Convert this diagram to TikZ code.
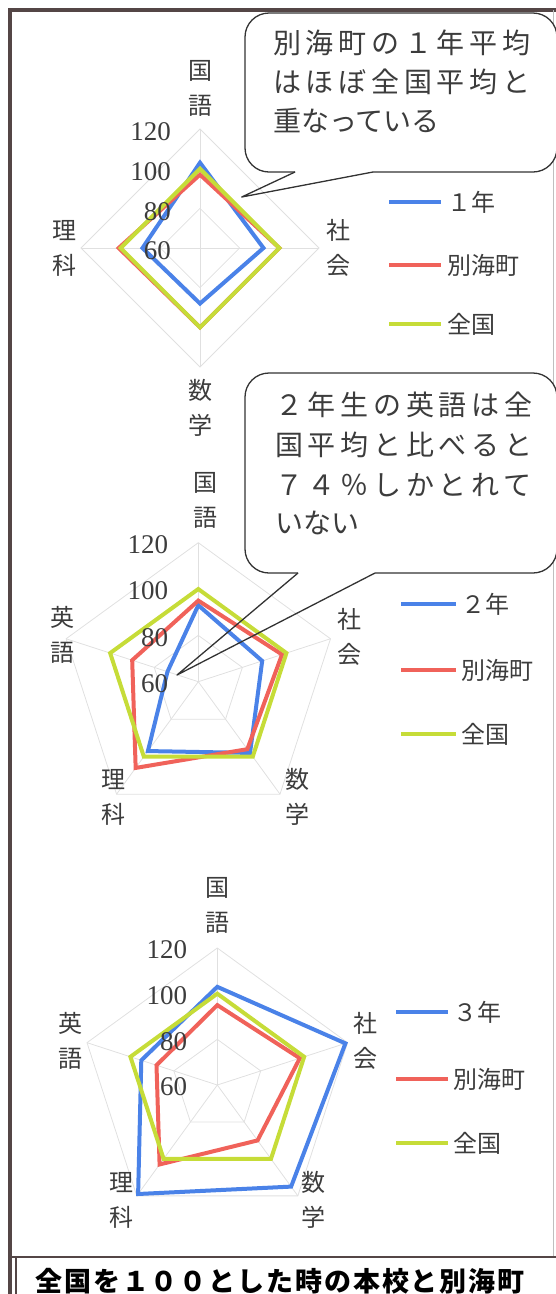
\documentclass[tikz,border=0pt]{standalone}
\usepackage{fontspec}
\setmainfont{Liberation Serif}
\newfontfamily\jp{Noto Sans CJK JP}
\newfontfamily\jpspread[LetterSpace=17]{Noto Sans CJK JP}
\newfontfamily\jptitle[LetterSpace=7]{Noto Sans CJK JP}
\usetikzlibrary{positioning}
\definecolor{jblue}{RGB}{74,130,232}
\definecolor{jred}{RGB}{240,98,90}
\definecolor{jgreen}{RGB}{198,220,56}
\definecolor{framebrown}{RGB}{84,70,70}
\definecolor{textgray}{RGB}{60,60,60}
\tikzstyle{grid line}=[draw=black!12, line width=0.8pt]
\tikzstyle{series}=[line width=4pt, line join=miter]
\tikzstyle{cat label}=[font=\jp\fontsize{24}{35}\selectfont, text=textgray, align=center, inner sep=0pt]
\tikzstyle{tick label}=[font=\fontsize{27}{27}\selectfont, text=textgray, anchor=east, inner sep=0pt]
\tikzstyle{legend line}=[line width=4.5pt]
\tikzstyle{legend text}=[font=\jp\fontsize{24}{24}\selectfont, text=textgray, anchor=west, inner sep=0pt]
\tikzstyle{bubble}=[draw=black!80, line width=1.3pt, line join=round]
\tikzstyle{bubble text}=[font=\jpspread\fontsize{28}{28}\selectfont, text=textgray, anchor=west, inner sep=0pt]
\tikzstyle{bubble last}=[font=\jp\fontsize{28}{28}\selectfont, text=textgray, anchor=west, inner sep=0pt]
% radar grid and one series, \n axes, radius \R (60 at centre, 120 outside)
\newcommand{\radargrid}{%
  \foreach \lv in {80,100,120}
    \draw[grid line] (90:{(\lv-60)/60*\R}) \foreach \idx in {2,...,\n} { -- ({90-360/\n*(\idx-1)}:{(\lv-60)/60*\R}) } -- cycle;
  \foreach \idx in {1,...,\n}
    \draw[grid line] (0,0) -- ({90-360/\n*(\idx-1)}:\R);
}
\newcommand{\radarline}[2]{%
  \foreach \val [count=\idx] in {#2}
    \coordinate (pt\idx) at ({90-360/\n*(\idx-1)}:{(\val-60)/60*\R});
  \draw[series, #1] (pt1) \foreach \idx in {2,...,\n} { -- (pt\idx) } -- cycle;
}

\begin{document}
\begin{tikzpicture}[x=1pt, y=-1pt]
\useasboundingbox (0,0) rectangle (555,1294);
\draw[framebrown, line width=3.5pt] (10,1294) -- (10,10) -- (560,10);
\draw[black!25, line width=0.8pt] (553,10) -- (553,1257);

% 1年
\begin{scope}[shift={(200,248)}, y=1pt]
\def \n {4}
\def \R {119}
\radargrid
\radarline{jblue}{103,92,88,89}
\radarline{jred}{97,100,100,101}
\radarline{jgreen}{100,100,100,100}
\foreach \lv in {60,80,100,120}
  \node[tick label] (tickA\lv) at (-29, {(\lv-60)/60*\R - 3}) {\lv};
\end{scope}
\node[cat label] (kokugoA) at (200,88) {国\\語};
\node[cat label] (shakaiA) at (338,248) {社\\会};
\node[cat label] (suugakuA) at (200,408) {数\\学};
\node[cat label] (rikaA) at (64,248) {理\\科};
\foreach \col/\lab/\yy in {jblue/１年/202, jred/別海町/265, jgreen/全国/324}
{
  \draw[legend line, \col] (389,\yy) coordinate (legl\yy) -- (441,\yy) coordinate (legr\yy);
  \node[legend text, right=6pt of legr\yy] (leg\yy) {\lab};
}

% 2年
\begin{scope}[shift={(198.3,681.7)}, y=1pt]
\def \n {5}
\def \R {139}
\radargrid
\radarline{jblue}{93,89,98,97,74}
\radarline{jred}{95,98,96,106,90}
\radarline{jgreen}{100,100,100,100,100}
\foreach \lv in {60,80,100,120}
  \node[tick label] (tickB\lv) at (-30, {(\lv-60)/60*\R - 2}) {\lv};
\end{scope}
\node[cat label] (kokugoB) at (205,500) {国\\語};
\node[cat label] (shakaiB) at (349,637) {社\\会};
\node[cat label] (suugakuB) at (297,797) {数\\学};
\node[cat label] (rikaB) at (113,797) {理\\科};
\node[cat label] (eigoB) at (62,635) {英\\語};
\foreach \col/\lab/\yy in {jblue/２年/604, jred/別海町/670, jgreen/全国/734}
{
  \draw[legend line, \col] (401,\yy) coordinate (legl\yy) -- (456,\yy) coordinate (legr\yy);
  \node[legend text, right=5pt of legr\yy] (leg\yy) {\lab};
}

% 3年
\begin{scope}[shift={(217.3,1085)}, y=1pt]
\def \n {5}
\def \R {137}
\radargrid
\radarline{jblue}{103,119,115,119,95}
\radarline{jred}{95,98,90,103,88}
\radarline{jgreen}{100,100,100,100,100}
\foreach \lv in {60,80,100,120}
  \node[tick label] (tickC\lv) at (-30, {(\lv-60)/60*\R - 2}) {\lv};
\end{scope}
\node[cat label] (kokugoC) at (217,905) {国\\語};
\node[cat label] (shakaiC) at (365,1041) {社\\会};
\node[cat label] (suugakuC) at (313,1200) {数\\学};
\node[cat label] (rikaC) at (121,1200) {理\\科};
\node[cat label] (eigoC) at (70,1041) {英\\語};
\foreach \col/\lab/\yy in {jblue/３年/1012, jred/別海町/1079, jgreen/全国/1143}
{
  \draw[legend line, \col] (396,\yy) coordinate (legl\yy) -- (448,\yy) coordinate (legr\yy);
  \node[legend text, right=5pt of legr\yy] (leg\yy) {\lab};
}

% callouts
\coordinate (tipA) at (241.7,197);
\draw[bubble, fill=white, rounded corners=24pt] (373,172) -- (557,172) -- (557,13) -- (245,13) -- (245,172) -- (295,172);
\draw[bubble] (295,172) -- (tipA) -- (373,172);
\node[bubble text] (noteA1) at (273,43) {別海町の１年平均};
\node[bubble text] (noteA2) at (273,82) {はほぼ全国平均と};
\node[bubble last] (noteA3) at (273,121) {重なっている};

\coordinate (tipB) at (177,675);
\draw[bubble, fill=white, rounded corners=24pt] (375,573) -- (557,573) -- (557,373) -- (245,373) -- (245,573) -- (298,573);
\draw[bubble] (298,573) -- (tipB) -- (375,573);
\node[bubble text] (noteB1) at (275,405) {２年生の英語は全};
\node[bubble text] (noteB2) at (275,445) {国平均と比べると};
\node[bubble text] (noteB3) at (275,485) {７４％しかとれて};
\node[bubble last] (noteB4) at (275,523) {いない};

% title
\draw[framebrown, line width=2.5pt] (10,1257) -- (560,1257);
\draw[framebrown, line width=1.5pt] (16,1257) -- (16,1294);
\node[font=\jptitle\bfseries\fontsize{27}{27}\selectfont, inner sep=0pt] (title) at (280,1281) {全国を１００とした時の本校と別海町};
\end{tikzpicture}
\end{document}
